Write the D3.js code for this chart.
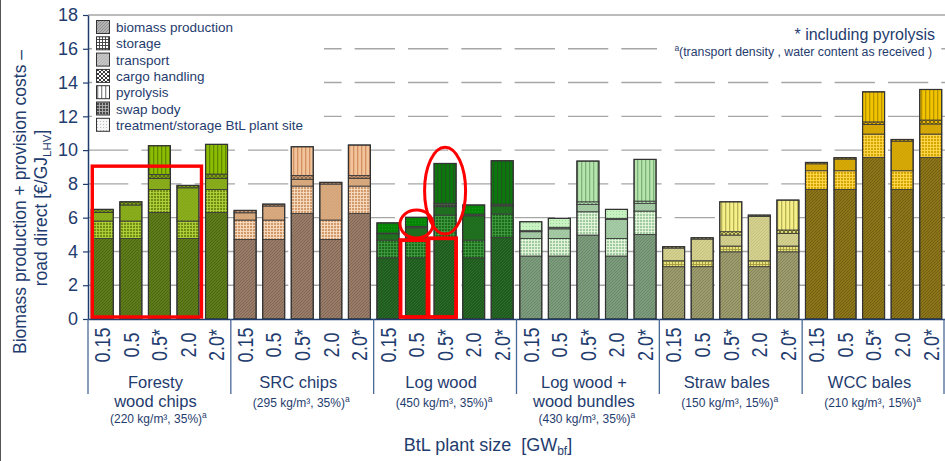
<!DOCTYPE html>
<html>
<head>
<meta charset="utf-8">
<script src="https://cdn.jsdelivr.net/npm/d3@7/dist/d3.min.js"></script>
<style>
  html, body { margin: 0; padding: 0; background: #fff; }
  svg { display: block; font-family: "Liberation Sans", Arial, sans-serif; }
</style>
</head>
<body>
<script>
// ---- data ---------------------------------------------------------------
const sizes = ["0.15", "0.5", "0.5*", "2.0", "2.0*"];
const groupTitles = [["Foresty", "wood chips"], ["SRC chips"], ["Log wood"],
                     ["Log wood +", "wood bundles"], ["Straw bales"], ["WCC bales"]];
const groupNotes = ["(220 kg/m³, 35%)", "(295 kg/m³, 35%)", "(450 kg/m³, 35%)",
                    "(430 kg/m³, 35%)", "(150 kg/m³, 15%)", "(210 kg/m³, 15%)"];
const seriesNames = ["biomass production", "storage", "transport", "cargo handling",
                     "pyrolysis", "swap body", "treatment/storage BtL plant site"];
const yTicks = [0, 2, 4, 6, 8, 10, 12, 14, 16, 18];

// cost components in €/GJ(LHV), 30 bars = 6 feedstocks x 5 plant sizes
const production = [4.77, 4.77, 6.31, 4.77, 6.31,
                    4.71, 4.71, 6.25, 4.71, 6.25,
                    3.62, 3.62, 4.78, 3.62, 4.82,
                    3.73, 3.73, 4.97, 3.73, 5.00,
                    3.10, 3.10, 3.98, 3.10, 3.98,
                    7.67, 7.67, 9.57, 7.67, 9.57];
const storage    = [1.03, 1.03, 1.36, 1.03, 1.36,
                    1.15, 1.15, 1.62, 1.15, 1.62,
                    1.05, 1.05, 1.37, 1.05, 1.40,
                    1.04, 1.04, 1.38, 1.04, 1.39,
                    0.35, 0.35, 0.34, 0.35, 0.34,
                    1.11, 1.11, 1.38, 1.11, 1.38];
const transport  = [0.51, 0.95, 0.65, 1.97, 0.65,
                    0.43, 0.83, 0.40, 2.13, 0.46,
                    0.38, 0.73, 0.50, 1.44, 0.48,
                    0.40, 0.57, 0.44, 1.13, 0.46,
                    0.75, 1.28, 0.65, 2.62, 0.75,
                    0.41, 0.69, 0.57, 1.75, 0.60];
const cargo      = [0.18, 0.19, 0.24, 0.14, 0.26,
                    0.14, 0.11, 0.23, 0.10, 0.17,
                    0, 0, 0, 0, 0,
                    0, 0, 0.15, 0, 0.13,
                    0.08, 0.08, 0.20, 0.08, 0.20,
                    0.08, 0.08, 0.15, 0.10, 0.23];
const swapBody   = [0, 0, 0, 0, 0,
                    0, 0, 0, 0, 0,
                    0.04, 0.08, 0.20, 0.10, 0.10,
                    0.06, 0.09, 0, 0.06, 0,
                    0, 0, 0, 0, 0,
                    0, 0, 0, 0, 0];
const treatment  = [0, 0, 0, 0, 0,
                    0, 0, 0, 0, 0,
                    0.60, 0.54, 0, 0.54, 0,
                    0.53, 0.53, 0, 0.53, 0,
                    0, 0, 0, 0, 0,
                    0, 0, 0, 0, 0];
const pyrolysis  = [0, 0, 1.70, 0, 1.76,
                    0, 0, 1.70, 0, 1.80,
                    0, 0, 2.36, 0, 2.57,
                    0, 0, 2.41, 0, 2.47,
                    0, 0, 1.77, 0, 1.77,
                    0, 0, 1.78, 0, 1.81];

// highlighted bars (bar index range and top value) and ringed segments
const highlightBoxes = [{ first: 0, last: 3, top: 9.05 },
                        { first: 11, last: 11, top: 4.67 },
                        { first: 12, last: 12, top: 4.78 }];
const highlightRings = [{ bar: 11, center: 5.62, halfSpan: 0.83 },
                        { bar: 12, center: 7.60, halfSpan: 2.57 }];

// ---- setup ----------------------------------------------------------------
const W = 945, H = 461;
const navy = "#1f3c6e";
const svg = d3.select("body").append("svg").attr("width", W).attr("height", H);
const defs = svg.append("defs");

const x = d3.scaleBand(d3.range(30), [88, 945]).paddingInner(0.23).paddingOuter(0.115);
const y = d3.scaleLinear([0, 18], [319, 15]);
const bw = x.bandwidth();

// stacking order from the bottom up
const stackOrder = [
  { key: "production", values: production, kind: "hatch" },
  { key: "storage", values: storage, kind: "grid" },
  { key: "transport", values: transport, kind: "fine" },
  { key: "cargo", values: cargo, kind: "cross" },
  { key: "swap", values: swapBody, kind: "swap" },
  { key: "treatment", values: treatment, kind: "dots" },
  { key: "pyrolysis", values: pyrolysis, kind: "vert" }
];

// per-feedstock colour pairs [background, pattern ink]
const palettes = [
  { production: ["#5f7c1a", "#4b6510"], storage: ["#6f8e12", "#b3d13c"], transport: ["#8aae1c", "#7a9c14"],
    cargo: ["#7e9e18", "#4f6a10"], swap: ["#3d5010", "#6a8a20"], treatment: ["#c8e07a", "#a0c040"], pyrolysis: ["#8ebc04", "#5e8a00"] },
  { production: ["#9a7d68", "#7e6352"], storage: ["#d39a6c", "#f6dcc2"], transport: ["#dbab80", "#c99a70"],
    cargo: ["#c49874", "#8a6548"], swap: ["#6a5040", "#8a7060"], treatment: ["#f4dcc6", "#d9b08e"], pyrolysis: ["#f2c49c", "#d38f60"] },
  { production: ["#1f5a1f", "#2d6f2a"], storage: ["#1b6b1b", "#3f9a3f"], transport: ["#217321", "#1a601a"],
    cargo: ["#2a6a2a", "#0e3e0e"], swap: ["#2e3f2e", "#4a5a4a"], treatment: ["#078507", "#1a9a1a"], pyrolysis: ["#0b780b", "#1e5a1e"] },
  { production: ["#7d9b7d", "#688668"], storage: ["#9fcb9f", "#e6f6df"], transport: ["#a5cca5", "#93b893"],
    cargo: ["#c5efc0", "#7fae7f"], swap: ["#3e4e3e", "#6a7a6a"], treatment: ["#c9f2c2", "#9fd89a"], pyrolysis: ["#b5e4ad", "#7eb27a"] },
  { production: ["#9d9c6c", "#82815a"], storage: ["#e8e27a", "#a09a40"], transport: ["#d4d18e", "#bcb878"],
    cargo: ["#e6df70", "#6a6a30"], swap: ["#5a5a30", "#8a8a50"], treatment: ["#f4f0b0", "#c8c070"], pyrolysis: ["#f5f08a", "#b8b254"] },
  { production: ["#8d761a", "#6f5c10"], storage: ["#d6a600", "#ffd850"], transport: ["#d8aa08", "#c89a00"],
    cargo: ["#e8b800", "#7a6000"], swap: ["#5a4a10", "#8a7420"], treatment: ["#f4dc80", "#d8b840"], pyrolysis: ["#f2c400", "#b99200"] }
];
const legendPalette = {
  production: ["#b4b4b4", "#8c8c8c"], storage: ["#ffffff", "#3a3a3a"], transport: ["#c6c6c6", "#aaaaaa"],
  cargo: ["#ffffff", "#222222"], pyrolysis: ["#ffffff", "#8a8a8a"], swap: ["#4a4a4a", "#b0b0b0"], treatment: ["#f6f6f6", "#bcbcbc"]
};
const legendKeys = ["production", "storage", "transport", "cargo", "pyrolysis", "swap", "treatment"];
const kindOf = Object.fromEntries(stackOrder.map(s => [s.key, s.kind]));

function addPattern(id, kind, bg, fg) {
  const size = { hatch: 3, grid: 3, fine: 3, cross: 4, swap: 3, dots: 3, vert: 4 }[kind];
  const p = defs.append("pattern").attr("id", id)
    .attr("patternUnits", "userSpaceOnUse").attr("width", size).attr("height", size);
  p.append("rect").attr("width", size).attr("height", size).attr("fill", bg);
  if (kind === "hatch" || kind === "fine") {
    p.append("path").attr("d", "M0,3 L3,0 M-1,1 L1,-1 M2,4 L4,2")
      .attr("stroke", fg).attr("stroke-width", kind === "hatch" ? 0.9 : 0.6);
  } else if (kind === "grid" || kind === "swap") {
    p.append("path").attr("d", "M0,0.5 H3 M0.5,0 V3").attr("stroke", fg).attr("stroke-width", 0.9);
  } else if (kind === "cross") {
    p.append("path").attr("d", "M0,4 L4,0 M0,0 L4,4").attr("stroke", fg).attr("stroke-width", 0.9);
  } else if (kind === "dots") {
    p.append("rect").attr("x", 1).attr("y", 1).attr("width", 1).attr("height", 1).attr("fill", fg);
  } else if (kind === "vert") {
    p.append("rect").attr("x", 1).attr("y", 0).attr("width", 1.3).attr("height", size).attr("fill", fg);
  }
}

palettes.forEach((pal, g) => {
  stackOrder.forEach(s => addPattern(`p-${g}-${s.key}`, s.kind, pal[s.key][0], pal[s.key][1]));
});
legendKeys.forEach(k => addPattern(`lg-${k}`, kindOf[k], legendPalette[k][0], legendPalette[k][1]));

// ---- grid -----------------------------------------------------------------
const grid = svg.append("g");
grid.selectAll("line").data(yTicks.filter(t => t > 0)).join("line")
  .attr("x1", 88).attr("x2", 945)
  .attr("y1", d => y(d)).attr("y2", d => y(d))
  .attr("stroke", "#a6a6a6").attr("stroke-width", 1.4)
  .attr("stroke-dasharray", d => d === 18 ? null : "40.3 13.03");

// ---- bars ------------------------------------------------------------------
const segments = [];
d3.range(30).forEach(i => {
  let base = 0;
  stackOrder.forEach(s => {
    const v = s.values[i];
    if (v > 0) {
      segments.push({ i, g: Math.floor(i / 5), key: s.key, y0: base, y1: base + v });
      base += v;
    }
  });
});
const totals = d3.range(30).map(i => d3.sum(stackOrder, s => s.values[i]));

const bars = svg.append("g");
bars.selectAll("rect.seg").data(segments).join("rect").attr("class", "seg")
  .attr("x", d => x(d.i)).attr("width", bw)
  .attr("y", d => y(d.y1)).attr("height", d => y(d.y0) - y(d.y1))
  .attr("fill", d => `url(#p-${d.g}-${d.key})`)
  .attr("stroke", "#3c3c3c").attr("stroke-width", 0.9);
bars.selectAll("rect.outline").data(totals).join("rect").attr("class", "outline")
  .attr("x", (d, i) => x(i)).attr("width", bw)
  .attr("y", d => y(d)).attr("height", d => y(0) - y(d))
  .attr("fill", "none").attr("stroke", "#333").attr("stroke-width", 1.2);

// ---- axes ------------------------------------------------------------------
const yAxis = svg.append("g").attr("transform", "translate(88,0)")
  .call(d3.axisLeft(y).tickValues(yTicks).tickSize(5).tickPadding(5).tickSizeOuter(0));
yAxis.select(".domain").attr("stroke", navy).attr("stroke-width", 1.5);
yAxis.selectAll(".tick line").attr("stroke", navy).attr("stroke-width", 1.2);
yAxis.selectAll(".tick text").attr("fill", navy).attr("font-size", 18)
  .attr("font-family", "Liberation Sans, Arial, sans-serif");

const xAxis = svg.append("g").attr("transform", "translate(0,319)")
  .call(d3.axisBottom(x).tickSize(0).tickSizeOuter(0).tickFormat(i => sizes[i % 5]));
xAxis.select(".domain").attr("stroke", navy).attr("stroke-width", 1.5);
xAxis.selectAll(".tick text")
  .attr("fill", navy).attr("font-size", 18)
  .attr("font-family", "Liberation Sans, Arial, sans-serif")
  .attr("text-anchor", "middle").attr("y", 0).attr("dy", "0.36em")
  .attr("transform", "translate(0,26) rotate(-90) scale(1,1.2)");

// feedstock separators below the axis
const step = x.step();
svg.append("g").selectAll("line").data(d3.range(7)).join("line")
  .attr("x1", g => 88 + g * 5 * step - (g === 6 ? 1 : 0))
  .attr("x2", g => 88 + g * 5 * step - (g === 6 ? 1 : 0))
  .attr("y1", 319).attr("y2", 394)
  .attr("stroke", "#4a6896").attr("stroke-width", 1.3);

// feedstock labels: one text per title, extra lines as tspans
const groupLabel = svg.append("g").attr("fill", navy).attr("text-anchor", "middle");
groupTitles.forEach((lines, g) => {
  const cx = 88 + (g + 0.5) * 5 * step - 4;
  const title = groupLabel.append("text").attr("x", cx).attr("y", 388).attr("font-size", 16.5);
  lines.forEach((t, k) => {
    title.append("tspan").attr("x", cx).attr("dy", k === 0 ? 0 : 18.5).text(t);
  });
  const note = groupLabel.append("text").attr("x", cx + 3).attr("y", 407 + (lines.length - 1) * 16)
    .attr("font-size", 12);
  note.append("tspan").text(groupNotes[g]);
  note.append("tspan").attr("font-size", 8.5).attr("dy", -5).text("a");
});

// axis titles
const xTitle = svg.append("text").attr("x", 488).attr("y", 451).attr("text-anchor", "middle")
  .attr("fill", navy).attr("font-size", 18).attr("xml:space", "preserve");
xTitle.append("tspan").text("BtL plant size  [GW");
xTitle.append("tspan").attr("font-size", 12).attr("dy", 4).text("bf");
xTitle.append("tspan").attr("dy", -4).text("]");

const yTitle = svg.append("g").attr("fill", navy).attr("text-anchor", "middle").attr("font-size", 17.5);
yTitle.append("text").attr("transform", "translate(26,202) rotate(-90)")
  .text("Biomass production + provision costs –");
const yt2 = yTitle.append("text").attr("transform", "translate(47,208) rotate(-90)");
yt2.append("tspan").text("road direct [€/GJ");
yt2.append("tspan").attr("font-size", 11.5).attr("dy", 4).text("LHV");
yt2.append("tspan").attr("dy", -4).text("]");

// ---- legend ----------------------------------------------------------------
const legend = svg.append("g");
legend.append("rect").attr("x", 92).attr("y", 18).attr("width", 232).attr("height", 116).attr("fill", "#fff");
legendKeys.forEach((k, j) => {
  const cy = 27 + j * 16.3;
  legend.append("rect").attr("x", 96.5).attr("y", cy - 6.5).attr("width", 13).attr("height", 13)
    .attr("fill", `url(#lg-${k})`).attr("stroke", "#333").attr("stroke-width", 1);
  legend.append("text").attr("x", 116).attr("y", cy + 5).attr("fill", navy).attr("font-size", 13.5)
    .text(seriesNames[j]);
});

// ---- notes top right ----------------------------------------------------
svg.append("rect").attr("x", 657).attr("y", 22).attr("width", 276).attr("height", 38).attr("fill", "#fff");
svg.append("text").attr("x", 935).attr("y", 40).attr("text-anchor", "end")
  .attr("fill", navy).attr("font-size", 16).text("* including pyrolysis");
const note2 = svg.append("text").attr("x", 932).attr("y", 56).attr("text-anchor", "end")
  .attr("fill", navy).attr("font-size", 12.3);
note2.append("tspan").attr("font-size", 8.5).attr("dy", -5).text("a");
note2.append("tspan").attr("dy", 5).text("(transport density , water content as received )");

// ---- red highlights ---------------------------------------------------------
const boxPadLeft = [-1, 5, 5.5], boxPadRight = [2.5, 0, 0];
const marks = svg.append("g").attr("fill", "none").attr("stroke", "#ff0000");
highlightBoxes.forEach((b, k) => {
  const x0 = x(b.first) - boxPadLeft[k];
  const x1 = x(b.last) + bw + boxPadRight[k];
  marks.append("rect").attr("x", x0).attr("y", y(b.top))
    .attr("width", x1 - x0).attr("height", y(0) - 2 - y(b.top))
    .attr("stroke-width", k === 0 ? 3.4 : 3.8);
});
const ringRx = [16.5, 20.5];
highlightRings.forEach((r, k) => {
  marks.append("ellipse").attr("cx", x(r.bar) + bw / 2).attr("cy", y(r.center))
    .attr("rx", ringRx[k]).attr("ry", y(0) - y(r.halfSpan))
    .attr("stroke-width", 3);
});

// thin frame line on the left edge
svg.append("line").attr("x1", 0.5).attr("x2", 0.5).attr("y1", 0).attr("y2", H)
  .attr("stroke", "#555").attr("stroke-width", 1);
</script>
</body>
</html>
